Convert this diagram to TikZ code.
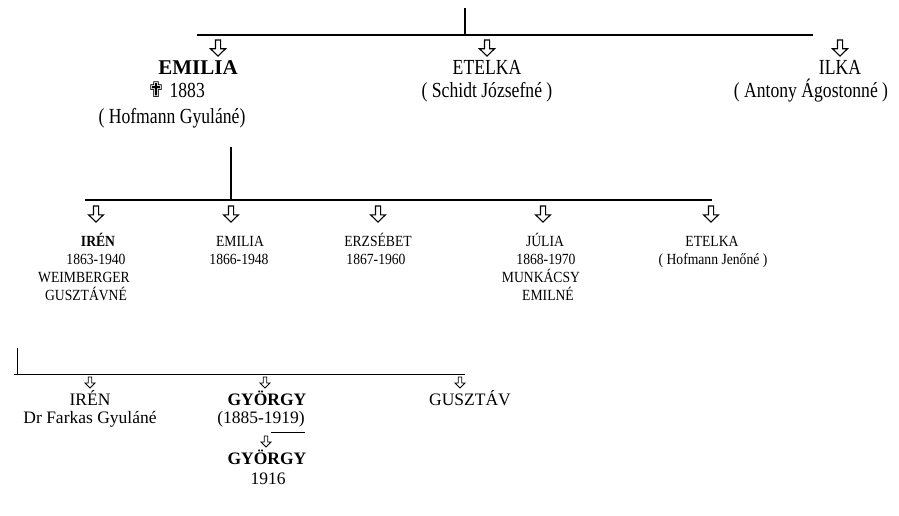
\documentclass[tikz,border=0pt]{standalone}
\usepackage{fontspec}
\setmainfont{Liberation Serif}
\newfontfamily\topfont[FakeStretch=0.82]{Liberation Serif}
\newfontfamily\midfont[FakeStretch=0.88]{Liberation Serif}
\newfontfamily\symfont{DejaVu Sans}
\usetikzlibrary{positioning}

\tikzset{
  downarrow/.pic={\draw[pic actions] (-0.17,0) -- (0.17,0) -- (0.17,0.55) -- (0.5,0.55) -- (0,1) -- (-0.5,0.55) -- (-0.17,0.55) -- cycle;},
  bigtxt/.style={anchor=base, inner sep=0pt, font=\topfont\fontsize{21.5}{24}\selectfont},
  headtxt/.style={anchor=base, inner sep=0pt, font=\bfseries\fontsize{21}{24}\selectfont},
  midtxt/.style={anchor=base, inner sep=0pt, font=\midfont\fontsize{15.5}{18}\selectfont},
  lowtxt/.style={anchor=base, inner sep=0pt, font=\fontsize{17.5}{20}\selectfont}
}

\begin{document}
\begin{tikzpicture}[x=1pt, y=-1pt, line join=miter]
\useasboundingbox (0,0) rectangle (899,516);

% Level 1
\coordinate (root) at (465,8);
\coordinate (bar1l) at (197,35);
\coordinate (bar1r) at (813,35);
\draw[line width=1.3pt] (bar1l) -- (bar1r);
\draw[line width=1.3pt] (root) -- (root |- bar1l);
\foreach \x/\n in {218/a, 487/b, 840/c}
  \pic[xscale=15, yscale=16, line width=1.1pt] (up\n) at (\x,40) {downarrow};
\node[headtxt] (emilia) at (198,75) {EMILIA};
\node[bigtxt] (emiliad) at (176,98) {{\symfont ✟} 1883};
\node[bigtxt] (emilian) at (172,124) {( Hofmann Gyuláné)};
\node[bigtxt] (etelka) at (487,75) {ETELKA};
\node[bigtxt] (etelkan) at (487,98) {( Schidt Józsefné )};
\node[bigtxt] (ilka) at (840,75) {ILKA};
\node[bigtxt] (ilkan) at (811,98) {( Antony Ágostonné )};

% Level 2
\coordinate (sub) at (231,147);
\coordinate (bar2l) at (85,200);
\coordinate (bar2r) at (712,200);
\draw[line width=1.3pt] (bar2l) -- (bar2r);
\draw[line width=1.1pt] (sub) -- (sub |- bar2l);
\foreach \x/\n in {96/a, 231/b, 378/c, 543/d, 711/e}
  \pic[xscale=15, yscale=16, line width=1.1pt] (mid\n) at (\x,206) {downarrow};
\node[midtxt] (iren) at (98,246) {\textbf{IRÉN}};
\node[midtxt] (irend) at (96,264) {1863-1940};
\node[midtxt] (irenn) at (84,282) {WEIMBERGER};
\node[midtxt] (irenm) at (86,300) {GUSZTÁVNÉ};
\node[midtxt] (emil) at (240,246) {EMILIA};
\node[midtxt] (emild) at (239,264) {1866-1948};
\node[midtxt] (erzs) at (378,246) {ERZSÉBET};
\node[midtxt] (erzsd) at (376,264) {1867-1960};
\node[midtxt] (julia) at (545,246) {JÚLIA};
\node[midtxt] (juliad) at (546,264) {1868-1970};
\node[midtxt] (julian) at (541,282) {MUNKÁCSY};
\node[midtxt] (juliam) at (548,300) {EMILNÉ};
\node[midtxt] (etel) at (712,246) {ETELKA};
\node[midtxt] (eteln) at (713,264) {( Hofmann Jenőné )};

% Level 3
\coordinate (wsub) at (17,348);
\coordinate (bar3l) at (14,374);
\coordinate (bar3r) at (465,374);
\draw[line width=0.9pt] (bar3l) -- (bar3r);
\draw[line width=0.9pt] (wsub) -- (wsub |- bar3l);
\foreach \x/\n in {90/a, 265/b, 460/c}
  \pic[xscale=10, yscale=11, line width=0.8pt] (low\n) at (\x,377) {downarrow};
\node[lowtxt] (iren2) at (90,405) {IRÉN};
\node[lowtxt] (iren2n) at (90,423) {Dr Farkas Gyuláné};
\node[lowtxt] (gyorgy) at (267,405) {\textbf{GYÖRGY}};
\node[lowtxt] (gyorgyd) at (261,423) {(1885-1919)};
\node[lowtxt] (gusztav) at (470,405) {GUSZTÁV};
\coordinate (sonl) at (271,432);
\coordinate (sonr) at (305,432);
\draw[line width=0.8pt] (sonl) -- (sonr);
\pic[xscale=10, yscale=11, line width=0.8pt] (lowd) at (266,436) {downarrow};
\node[lowtxt] (gyorgy2) at (267,464) {\textbf{GYÖRGY}};
\node[lowtxt] (gyorgy2d) at (268,484) {1916};
\end{tikzpicture}
\end{document}
